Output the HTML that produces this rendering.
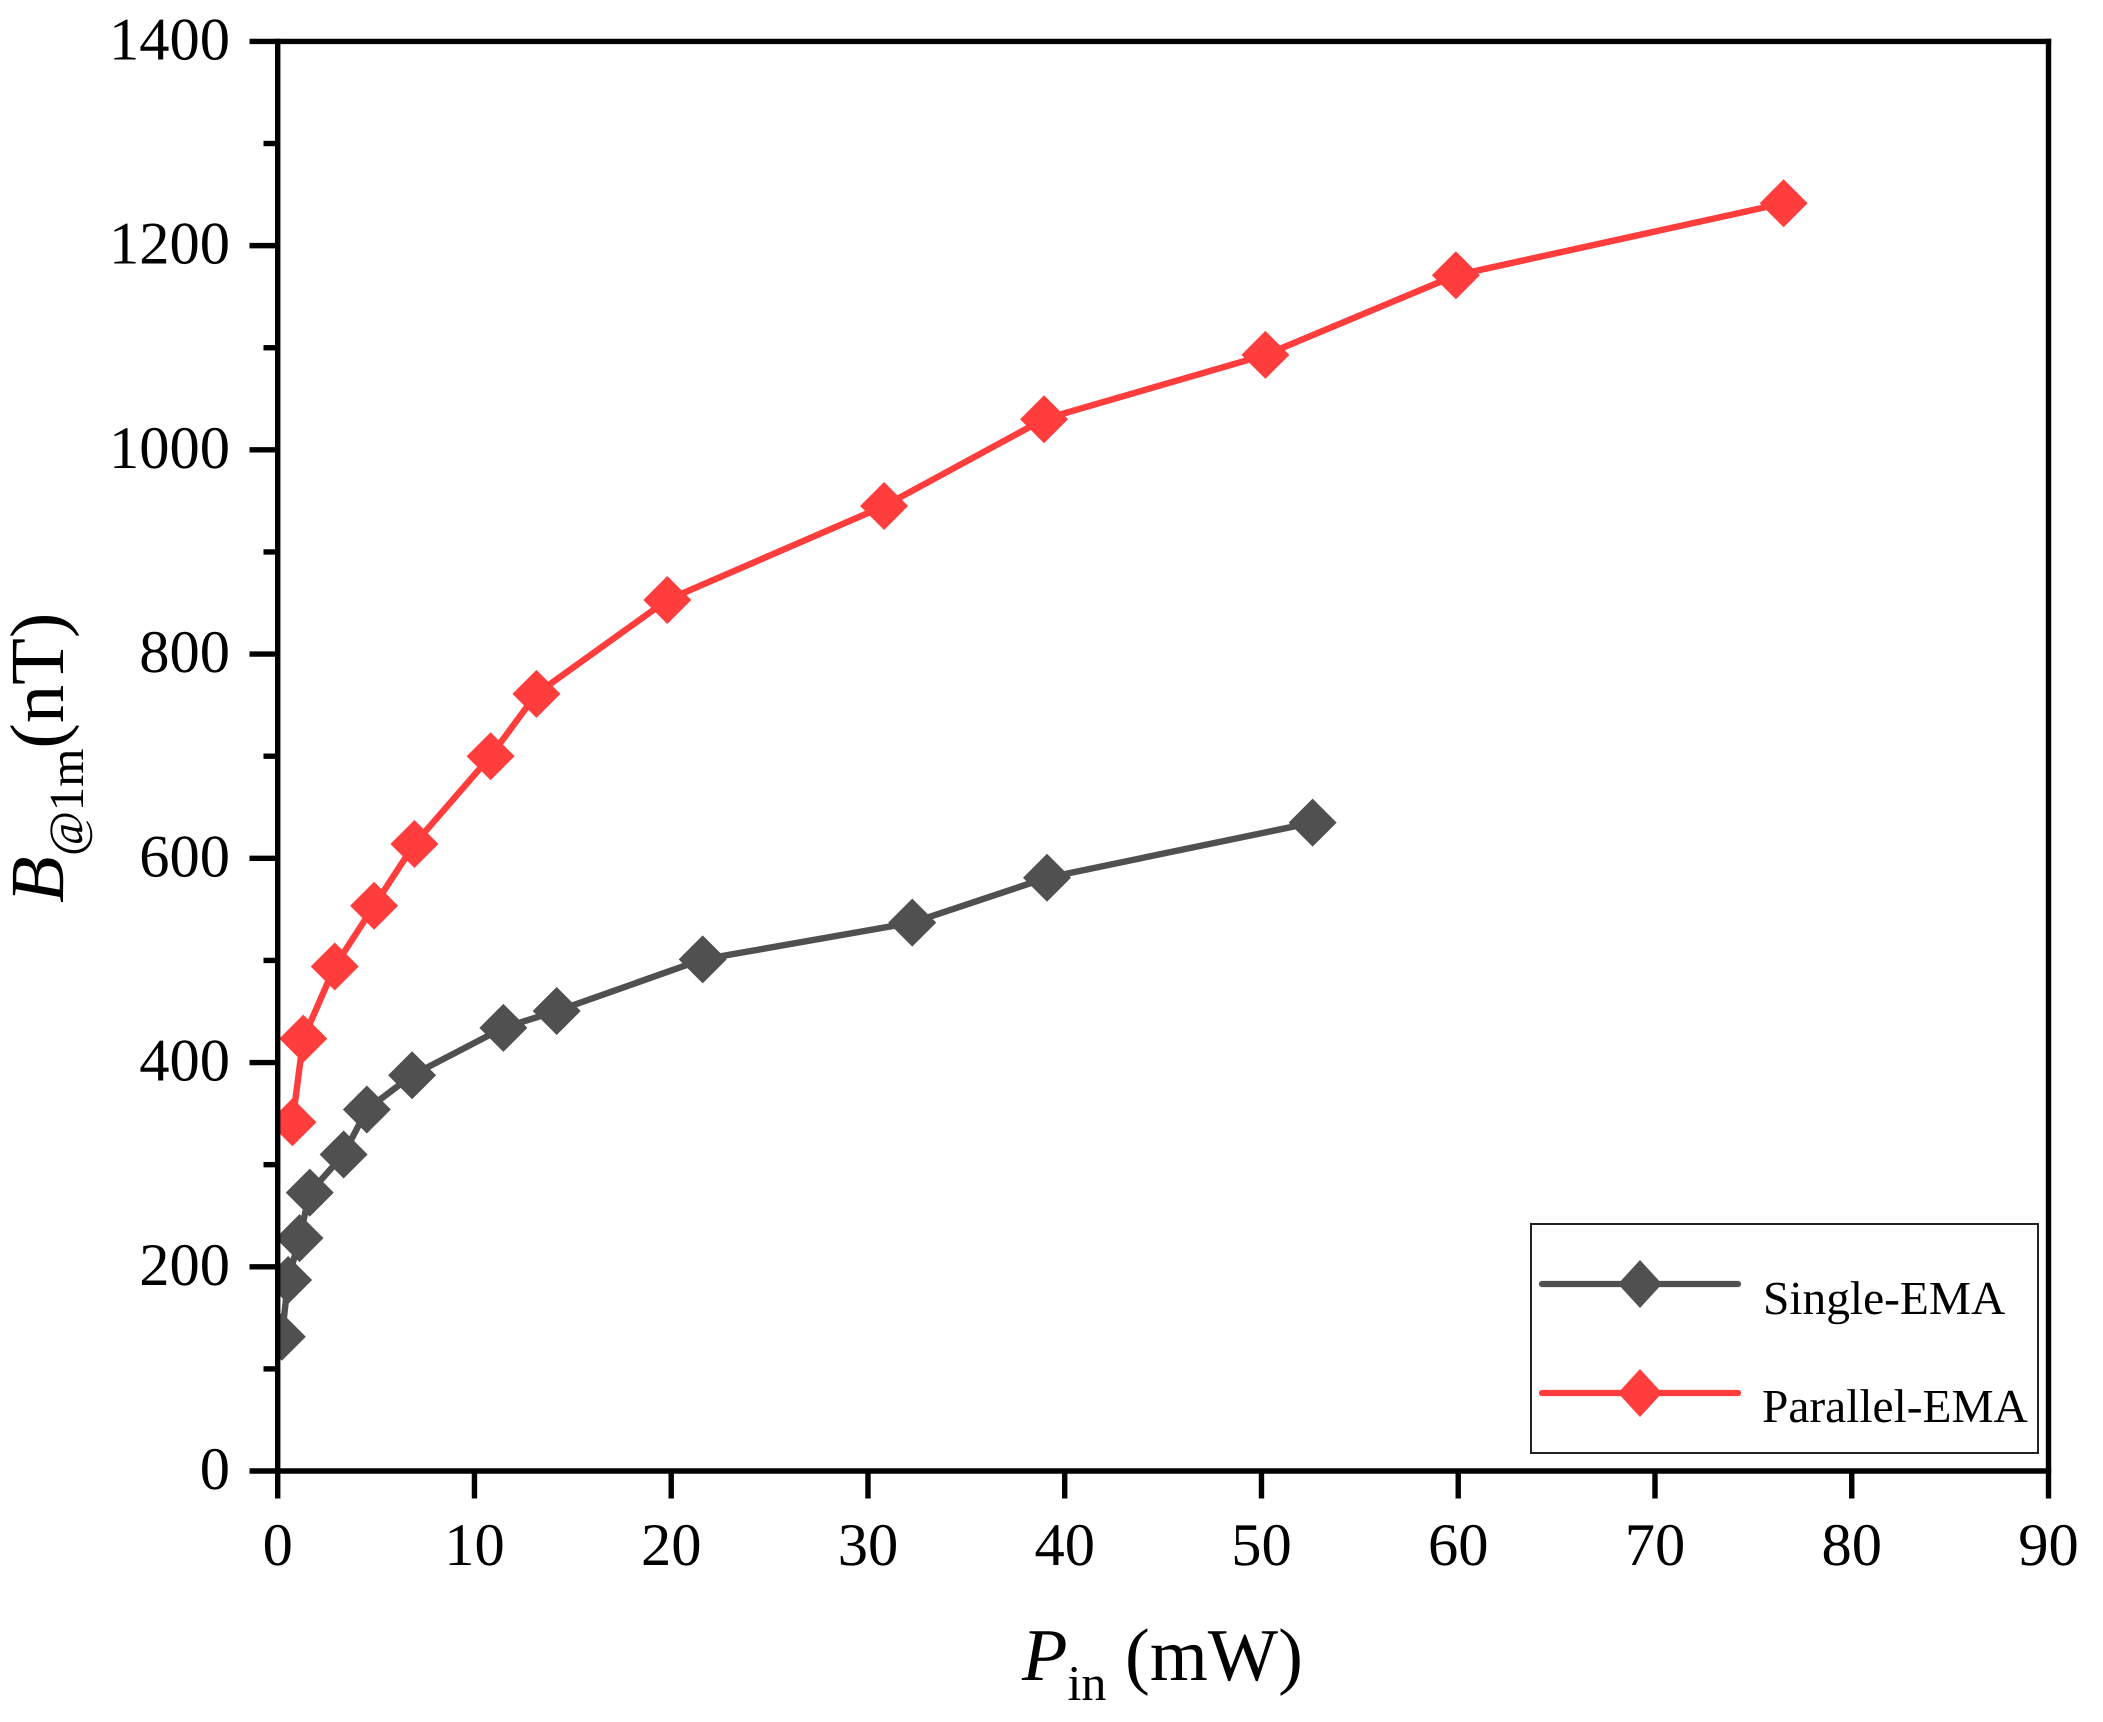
<!DOCTYPE html>
<html lang="en">
<head>
<meta charset="utf-8">
<title>B@1m versus Pin chart</title>
<style>
  html, body { margin: 0; padding: 0; background: #ffffff; }
  svg { display: block; }
  text { font-family: "Liberation Serif", "Times New Roman", serif; fill: #000000; text-rendering: geometricPrecision; }
  .tick-label { font-size: 60.5px; }
  .legend-text { font-size: 47.4px; }
</style>
</head>
<body>
<svg id="chart" xmlns="http://www.w3.org/2000/svg" width="2103" height="1722" viewBox="0 0 2103 1722">
  <defs>
    <clipPath id="plot-clip"><rect x="277.5" y="41" width="1771" height="1431"></rect></clipPath>
  </defs>
  <rect x="0" y="0" width="2103" height="1722" fill="#ffffff"></rect>
  <g id="series-layer" clip-path="url(#plot-clip)"></g>
  <g id="axis-layer"></g>

  <g>
    <rect x="1531" y="1224" width="507" height="229" fill="none" stroke="#222222" stroke-width="2"></rect>
    <g>
      <line x1="1542" y1="1284" x2="1738" y2="1284" stroke="#505050" stroke-width="6.2" stroke-linecap="round"></line>
      <polygon points="1640,1260 1662,1284 1640,1308 1618,1284" fill="#505050"></polygon>
      <text class="legend-text" x="1763" y="1314">Single-EMA</text>
    </g>
    <g>
      <line x1="1542" y1="1393" x2="1738" y2="1393" stroke="#ff3d3d" stroke-width="6.2" stroke-linecap="round"></line>
      <polygon points="1640,1369 1662,1393 1640,1417 1618,1393" fill="#ff3d3d"></polygon>
      <text class="legend-text" x="1762" y="1422">Parallel-EMA</text>
    </g>
  </g>

  <text x="1022" y="1680" font-size="74.5"><tspan font-style="italic">P</tspan><tspan font-size="50" dy="20">in</tspan><tspan dy="-20"> (mW)</tspan></text>
  <text transform="translate(63 903) rotate(-90)" font-size="76.5"><tspan font-style="italic">B</tspan><tspan font-size="49" font-style="italic" dy="20">@</tspan><tspan font-size="49" dy="0">1m</tspan><tspan dy="-20">(nT)</tspan></text>
</svg>
<script>
const xTickValues = [0, 10, 20, 30, 40, 50, 60, 70, 80, 90];
const yTickValues = [0, 200, 400, 600, 800, 1000, 1200, 1400];
const yMinorTickValues = [100, 300, 500, 700, 900, 1100, 1300];

const singlePower = [0.21, 0.53, 1.11, 1.63, 3.35, 4.53, 6.83, 11.47, 14.18, 21.6, 32.25, 39.1, 52.6];
const singleField = [131.5, 187, 228, 272.6, 310, 354, 387.5, 434, 450.5, 501, 537, 581, 635];
const parallelPower = [0.75, 1.3, 2.9, 4.9, 6.95, 10.82, 13.15, 19.8, 30.82, 38.95, 50.2, 59.88, 76.54];
const parallelField = [341.5, 423.4, 494, 553.5, 614, 700, 761, 853, 945, 1030, 1093, 1171, 1241.5];

const SVG_NS = 'http://www.w3.org/2000/svg';
const PLOT = { left: 277.7, right: 2048.5, top: 41.4, bottom: 1471 };
const X_MAX = 90;
const Y_MAX = 1400;
const MARKER_HALF = 24;

function xScale(v) { return PLOT.left + (v / X_MAX) * (PLOT.right - PLOT.left); }
function yScale(v) { return PLOT.bottom - (v / Y_MAX) * (PLOT.bottom - PLOT.top); }

function make(tag, parent) {
  const el = document.createElementNS(SVG_NS, tag);
  parent.appendChild(el);
  return el;
}

function setAttrs(el, attrs) {
  Object.keys(attrs).forEach(function (k) { el.setAttribute(k, attrs[k]); });
}

const axisLayer = document.getElementById('axis-layer');
const seriesLayer = document.getElementById('series-layer');

function drawSeries(powers, fields, color, key) {
  const group = make('g', seriesLayer);
  
  

  const line = make('polyline', group);
  
  
  setAttrs(line, {
    points: powers.map(function (p, i) { return xScale(p) + ',' + yScale(fields[i]); }).join(' '),
    fill: 'none',
    stroke: color,
    'stroke-width': 6.4,
    'stroke-linejoin': 'round'
  });

  powers.forEach(function (p, i) {
    const cx = xScale(p);
    const cy = yScale(fields[i]);
    const marker = make('polygon', group);
    
    
    setAttrs(marker, {
      points: [
        cx + ',' + (cy - MARKER_HALF),
        (cx + MARKER_HALF) + ',' + cy,
        cx + ',' + (cy + MARKER_HALF),
        (cx - MARKER_HALF) + ',' + cy
      ].join(' '),
      fill: color
    });
  });
}

function drawSegment(x1, y1, x2, y2, name) {
  const seg = make('line', axisLayer);
  
  
  setAttrs(seg, { x1: x1, y1: y1, x2: x2, y2: y2, stroke: '#000000', 'stroke-width': 5.4 });
}

drawSeries(singlePower, singleField, '#505050', 'single-ema');
drawSeries(parallelPower, parallelField, '#ff3d3d', 'parallel-ema');

drawSegment(PLOT.left, PLOT.top - 2.7, PLOT.left, PLOT.bottom, 'y-axis-line');
drawSegment(PLOT.right, PLOT.top - 2.7, PLOT.right, PLOT.bottom, 'right-frame-line');
drawSegment(PLOT.left, PLOT.top, PLOT.right + 2.7, PLOT.top, 'top-frame-line');
drawSegment(PLOT.left, PLOT.bottom, PLOT.right + 2.7, PLOT.bottom, 'x-axis-line');

yTickValues.forEach(function (v) {
  const y = yScale(v);
  drawSegment(249.5, y, PLOT.left, y, 'y-major-tick');
  const label = make('text', axisLayer);
  
  
  setAttrs(label, { class: 'tick-label', x: 230, y: y + 18, 'text-anchor': 'end' });
  label.textContent = String(v);
});

yMinorTickValues.forEach(function (v) {
  const y = yScale(v);
  drawSegment(263.5, y, PLOT.left, y, 'y-minor-tick');
});

xTickValues.forEach(function (v) {
  const x = xScale(v);
  drawSegment(x, PLOT.bottom, x, 1498.5, 'x-major-tick');
  const label = make('text', axisLayer);
  
  
  setAttrs(label, { class: 'tick-label', x: x, y: 1565, 'text-anchor': 'middle' });
  label.textContent = String(v);
});
</script>
</body>
</html>
